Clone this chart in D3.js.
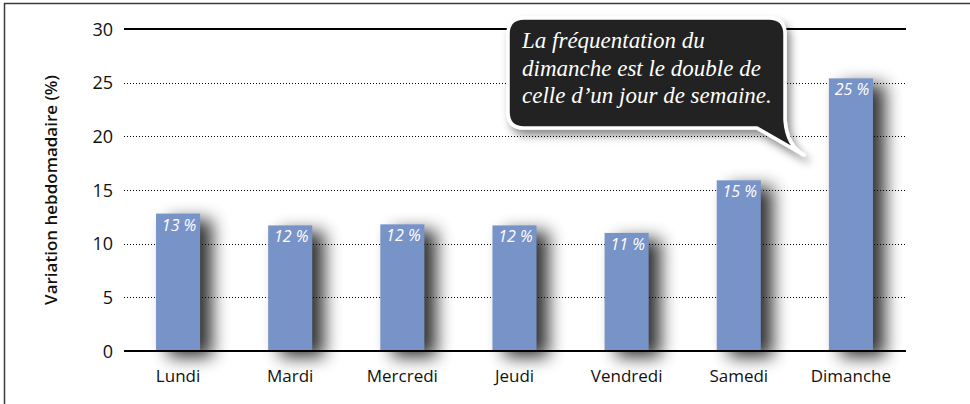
<!DOCTYPE html>
<html>
<head>
<meta charset="utf-8">
<script src="https://cdn.jsdelivr.net/npm/d3@7"></script>
<style>
  body { margin: 0; background: #fff; }
  svg { display: block; }
</style>
</head>
<body>
<svg id="chart" width="970" height="404"></svg>
<script>
const days = ["Lundi", "Mardi", "Mercredi", "Jeudi", "Vendredi", "Samedi", "Dimanche"];
const values = [12.8, 11.7, 11.8, 11.7, 11.0, 15.9, 25.4];
const valueLabels = ["13 %", "12 %", "12 %", "12 %", "11 %", "15 %", "25 %"];
const yTicks = [0, 5, 10, 15, 20, 25, 30];
const yTitle = "Variation hebdomadaire (%)";
const calloutLines = ["La fréquentation du", "dimanche est le double de", "celle d’un jour de semaine."];

const svg = d3.select("#chart");
const sans = "'Open Sans', 'DejaVu Sans', sans-serif";

// frame
svg.append("path").attr("d", "M4.5,404 V3.5 H970")
  .attr("fill", "none").attr("stroke", "#3a3a3a").attr("stroke-width", 1.5);

const defs = svg.append("defs");
const sh = defs.append("filter").attr("id", "barShadow")
  .attr("x", "-80%").attr("y", "-30%").attr("width", "260%").attr("height", "160%");
sh.append("feGaussianBlur").attr("stdDeviation", 8.5);

const cs = defs.append("filter").attr("id", "boxShadow")
  .attr("x", "-20%").attr("y", "-20%").attr("width", "140%").attr("height", "150%");
cs.append("feDropShadow").attr("dx", 4).attr("dy", 6).attr("stdDeviation", 4)
  .attr("flood-color", "#000").attr("flood-opacity", 0.45);

const x0 = 124, x1 = 906;
const x = d3.scaleBand().domain(days).range([122, 907]).paddingInner(0.607).paddingOuter(0.3035);
const y = d3.scaleLinear().domain([0, 30]).range([351, 29]);

// bar shadows
svg.append("g").selectAll("rect").data(values).join("rect")
  .attr("x", (d, i) => x(days[i]) + 12)
  .attr("y", d => y(d) + 6)
  .attr("width", x.bandwidth())
  .attr("height", d => y(0) - y(d))
  .attr("fill", "#000").attr("opacity", 0.8)
  .attr("filter", "url(#barShadow)");

// grid
svg.append("g").selectAll("line").data(yTicks.filter(t => t > 0 && t < 30)).join("line")
  .attr("x1", x0).attr("x2", x1)
  .attr("y1", d => Math.round(y(d)) + 0.5).attr("y2", d => Math.round(y(d)) + 0.5)
  .attr("stroke", "#000").attr("stroke-width", 1).attr("stroke-dasharray", "1,2");

svg.append("g").selectAll("line").data([0, 30]).join("line")
  .attr("x1", x0).attr("x2", x1)
  .attr("y1", d => y(d)).attr("y2", d => y(d))
  .attr("stroke", "#000").attr("stroke-width", 2);

// y tick labels
svg.append("g").selectAll("text").data(yTicks).join("text")
  .attr("x", 113).attr("y", d => y(d) + 6.5)
  .attr("text-anchor", "end")
  .attr("font-family", sans).attr("font-size", 18).attr("fill", "#111")
  .text(d => d);

// bars
svg.append("g").selectAll("rect").data(values).join("rect")
  .attr("x", (d, i) => x(days[i]))
  .attr("y", d => y(d))
  .attr("width", x.bandwidth())
  .attr("height", d => y(0) - y(d) - 1)
  .attr("fill", "#7893c8");

svg.append("g").selectAll("text").data(values).join("text")
  .attr("x", (d, i) => x(days[i]) + x.bandwidth() / 2 + 1)
  .attr("y", d => y(d) + 17)
  .attr("text-anchor", "middle")
  .attr("font-family", sans).attr("font-style", "italic").attr("font-size", 16)
  .attr("fill", "#fff")
  .text((d, i) => valueLabels[i]);

// x labels
svg.append("g").selectAll("text").data(days).join("text")
  .attr("x", d => x(d) + x.bandwidth() / 2)
  .attr("y", 382)
  .attr("text-anchor", "middle")
  .attr("font-family", sans).attr("font-size", 17).attr("fill", "#111")
  .text(d => d);

// y title
svg.append("text")
  .attr("transform", `translate(57,${(y(0) + y(30)) / 2}) rotate(-90)`)
  .attr("text-anchor", "middle")
  .attr("font-family", sans).attr("font-weight", 600).attr("font-size", 17).attr("fill", "#111")
  .text(yTitle);

// callout bubble
const bx = 508, by = 18, bw = 277, bh = 110, r = 16;
const tip = [804, 155];
const bubble = `M${bx + r},${by} H${bx + bw - r} Q${bx + bw},${by} ${bx + bw},${by + r}
  V${by + bh - 8} Q${bx + bw + 2},${by + bh + 18} ${tip[0]},${tip[1]}
  L${bx + bw - 28},${by + bh} H${bx + r} Q${bx},${by + bh} ${bx},${by + bh - r}
  V${by + r} Q${bx},${by} ${bx + r},${by} Z`;
svg.append("path").attr("d", bubble)
  .attr("fill", "#232323").attr("stroke", "#fff").attr("stroke-width", 3.5)
  .attr("stroke-linejoin", "round")
  .attr("filter", "url(#boxShadow)");

svg.append("g").selectAll("text").data(calloutLines).join("text")
  .attr("x", 522).attr("y", (d, i) => 48 + i * 27.5)
  .attr("font-family", "'Liberation Serif', 'DejaVu Serif', serif")
  .attr("font-style", "italic").attr("font-size", 23).attr("fill", "#fff")
  .text(d => d);
</script>
</body>
</html>
